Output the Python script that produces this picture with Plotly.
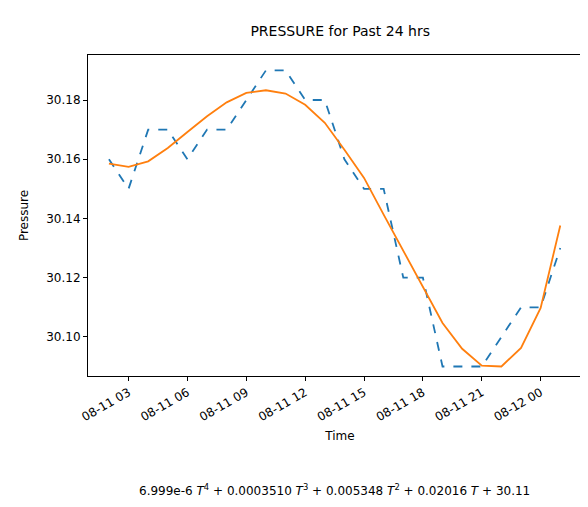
import pandas as pd
import plotly.graph_objects as go

# ————— data —————
times = pd.date_range("2023-08-11 02:00", periods=24, freq="h")
pressure = [30.16, 30.15, 30.17, 30.17, 30.16, 30.17, 30.17, 30.18, 30.19, 30.19,
            30.18, 30.18, 30.16, 30.15, 30.15, 30.12, 30.12, 30.09, 30.09, 30.09,
            30.10, 30.11, 30.11, 30.13]
fit = [30.1585, 30.1574, 30.1593, 30.1638, 30.1692, 30.1745, 30.1792, 30.1824,
       30.1833, 30.1822, 30.1784, 30.1723, 30.1632, 30.1537, 30.1413, 30.1290,
       30.1165, 30.1047, 30.0960, 30.0903, 30.0900, 30.0963, 30.1098, 30.1376]
tick_vals = pd.date_range("2023-08-11 03:00", periods=8, freq="3h")
tick_text = [t.strftime("%m-%d %H") for t in tick_vals]
yticks = [30.10, 30.12, 30.14, 30.16, 30.18]
formula = ("6.999e-6 <i>T</i><sup>4</sup> + 0.0003510 <i>T</i><sup>3</sup> + "
           "0.005348 <i>T</i><sup>2</sup> + 0.02016 <i>T</i> + 30.11")

fig = go.Figure()
fig.add_trace(go.Scatter(x=times, y=pressure, mode="lines",
                         line=dict(color="#1f77b4", width=1.8, dash="dash")))
fig.add_trace(go.Scatter(x=times, y=fit, mode="lines",
                         line=dict(color="#ff7f0e", width=1.8)))

axis = dict(showline=True, linecolor="black", mirror=True, ticks="outside",
            ticklen=4, tickcolor="black", showgrid=False, zeroline=False,
            automargin=False, tickfont=dict(size=12, color="black"))
fig.update_xaxes(**axis, range=["2023-08-11 00:56", "2023-08-12 02:37"],
                 tickvals=tick_vals, ticktext=tick_text, tickangle=-30,
                 title=dict(text="Time", font=dict(size=12, color="black"), standoff=8))
fig.update_yaxes(**axis, range=[30.0868, 30.1952], tickvals=yticks,
                 tickformat=".2f",
                 title=dict(text="Pressure", font=dict(size=12, color="black")))

fig.update_layout(
    width=588, height=507, showlegend=False,
    plot_bgcolor="white", paper_bgcolor="white",
    font=dict(family="DejaVu Sans", color="black"),
    margin=dict(l=80, r=4, t=47, b=139, pad=0),
    title=dict(text="PRESSURE for Past 24 hrs", x=0.565, xanchor="center",
               y=0.965, font=dict(size=14, color="black")),
    annotations=[dict(text=formula, xref="paper", yref="paper", x=0.49, y=-0.385,
                      xanchor="center", showarrow=False,
                      font=dict(size=12, color="black"))],
)

fig.write_html("out.html")
